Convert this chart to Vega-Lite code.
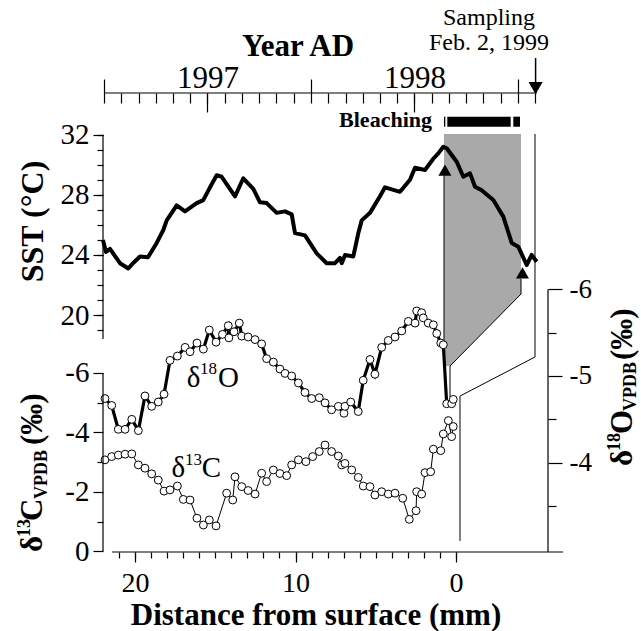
{
"$schema": "https://vega.github.io/schema/vega-lite/v6.json",
"autosize": {"type": "none"},
"padding": {"left": 103, "top": 93, "right": 93, "bottom": 79},
"width": 445,
"height": 459,
"config": {
  "view": {"stroke": null},
  "axis": {"domain": false, "grid": false, "tickColor": "black", "labelColor": "black", "labelFont": "Liberation Serif, Times New Roman, Times, DejaVu Serif, serif", "tickWidth": 1.2, "labelFlush": false, "labelOverlap": false},
  "text": {"font": "Liberation Serif, Times New Roman, Times, DejaVu Serif, serif", "color": "black"}
},
"datasets": {
  "sst": [
    {"t":1996.995,"v":25.0},{"t":1997.0097,"v":24.2},{"t":1997.029,"v":24.4},{"t":1997.0773,"v":23.45},{"t":1997.1174,"v":23.1},{"t":1997.1401,"v":23.45},{"t":1997.1739,"v":23.9},{"t":1997.2126,"v":23.85},{"t":1997.2546,"v":24.8},{"t":1997.2865,"v":25.66},{"t":1997.3029,"v":26.3},{"t":1997.3512,"v":27.3},{"t":1997.3913,"v":26.9},{"t":1997.4478,"v":27.45},{"t":1997.4797,"v":27.65},{"t":1997.5121,"v":28.5},{"t":1997.5444,"v":29.3},{"t":1997.5686,"v":29.2},{"t":1997.6329,"v":27.9},{"t":1997.6729,"v":29.1},{"t":1997.7213,"v":28.4},{"t":1997.7536,"v":27.5},{"t":1997.786,"v":27.45},{"t":1997.8343,"v":26.8},{"t":1997.8744,"v":26.9},{"t":1997.9068,"v":26.7},{"t":1997.9227,"v":25.45},{"t":1997.971,"v":25.3},{"t":1998.0275,"v":24.1},{"t":1998.0758,"v":23.45},{"t":1998.1159,"v":23.45},{"t":1998.1401,"v":23.8},{"t":1998.1483,"v":23.45},{"t":1998.1643,"v":24.0},{"t":1998.2043,"v":23.9},{"t":1998.2285,"v":25.44},{"t":1998.2449,"v":26.3},{"t":1998.285,"v":26.8},{"t":1998.3333,"v":27.9},{"t":1998.3575,"v":28.5},{"t":1998.43,"v":28.2},{"t":1998.4783,"v":29.0},{"t":1998.5024,"v":29.8},{"t":1998.5507,"v":29.65},{"t":1998.5908,"v":30.4},{"t":1998.615,"v":30.76},{"t":1998.6391,"v":31.2},{"t":1998.6556,"v":31.1},{"t":1998.7039,"v":30.2},{"t":1998.7358,"v":29.2},{"t":1998.7681,"v":29.43},{"t":1998.7923,"v":28.54},{"t":1998.8246,"v":28.3},{"t":1998.8807,"v":27.65},{"t":1998.929,"v":26.55},{"t":1998.9696,"v":24.8},{"t":1999.0014,"v":24.55},{"t":1999.042,"v":23.33},{"t":1999.0662,"v":24.0},{"t":1999.0903,"v":23.55}
  ],
  "o18": [
    {"d":21.87,"v":-4.74},{"d":21.45,"v":-4.66},{"d":21.04,"v":-4.385},{"d":20.62,"v":-4.385},{"d":20.2,"v":-4.5},{"d":19.79,"v":-4.37},{"d":19.38,"v":-4.77},{"d":18.96,"v":-4.65},{"d":18.55,"v":-4.7},{"d":18.19,"v":-4.79},{"d":17.82,"v":-5.18},{"d":17.36,"v":-5.23},{"d":16.88,"v":-5.33},{"d":16.57,"v":-5.28},{"d":16.14,"v":-5.38},{"d":15.74,"v":-5.31},{"d":15.37,"v":-5.53},{"d":14.95,"v":-5.39},{"d":14.55,"v":-5.48},{"d":14.19,"v":-5.58},{"d":14.15,"v":-5.44},{"d":13.83,"v":-5.51},{"d":13.5,"v":-5.61},{"d":13.35,"v":-5.46},{"d":12.95,"v":-5.45},{"d":12.52,"v":-5.42},{"d":12.11,"v":-5.37},{"d":11.8,"v":-5.2},{"d":11.38,"v":-5.16},{"d":10.97,"v":-5.08},{"d":10.65,"v":-5.03},{"d":10.24,"v":-5.0},{"d":9.82,"v":-4.92},{"d":9.41,"v":-4.81},{"d":8.99,"v":-4.74},{"d":8.52,"v":-4.75},{"d":8.16,"v":-4.69},{"d":7.75,"v":-4.61},{"d":7.33,"v":-4.65},{"d":6.98,"v":-4.57},{"d":6.92,"v":-4.65},{"d":6.56,"v":-4.7},{"d":6.09,"v":-4.59},{"d":5.78,"v":-4.95},{"d":5.36,"v":-5.19},{"d":5.05,"v":-5.02},{"d":4.63,"v":-5.33},{"d":4.22,"v":-5.41},{"d":3.8,"v":-5.45},{"d":3.38,"v":-5.52},{"d":2.97,"v":-5.63},{"d":2.55,"v":-5.61},{"d":2.45,"v":-5.75},{"d":2.14,"v":-5.73},{"d":2.04,"v":-5.67},{"d":1.73,"v":-5.61},{"d":1.41,"v":-5.59},{"d":1.2,"v":-5.49},{"d":0.95,"v":-5.38},{"d":0.79,"v":-5.36},{"d":0.58,"v":-4.68},{"d":0.27,"v":-4.68},{"d":0.17,"v":-4.73}
  ],
  "c13": [
    {"d":21.87,"v":-3.08},{"d":21.45,"v":-3.19},{"d":21.04,"v":-3.24},{"d":20.62,"v":-3.27},{"d":20.2,"v":-3.28},{"d":19.79,"v":-2.91},{"d":19.38,"v":-2.8},{"d":18.96,"v":-2.61},{"d":18.55,"v":-2.4},{"d":18.19,"v":-2.03},{"d":17.82,"v":-2.07},{"d":17.36,"v":-2.2},{"d":16.99,"v":-1.75},{"d":16.57,"v":-1.73},{"d":16.14,"v":-1.12},{"d":15.74,"v":-0.89},{"d":15.37,"v":-1.06},{"d":14.95,"v":-0.86},{"d":14.29,"v":-1.96},{"d":13.91,"v":-1.73},{"d":13.77,"v":-2.51},{"d":13.35,"v":-2.18},{"d":12.95,"v":-2.05},{"d":12.52,"v":-1.93},{"d":12.11,"v":-2.63},{"d":11.8,"v":-2.35},{"d":11.38,"v":-2.74},{"d":10.97,"v":-2.62},{"d":10.55,"v":-2.55},{"d":10.24,"v":-2.91},{"d":9.82,"v":-3.08},{"d":9.35,"v":-3.02},{"d":8.93,"v":-3.19},{"d":8.52,"v":-3.36},{"d":8.16,"v":-3.58},{"d":7.75,"v":-3.36},{"d":7.33,"v":-3.21},{"d":7.12,"v":-2.91},{"d":6.92,"v":-2.96},{"d":6.5,"v":-2.74},{"d":6.09,"v":-2.49},{"d":5.78,"v":-2.2},{"d":5.36,"v":-2.18},{"d":5.05,"v":-1.9},{"d":4.63,"v":-2.01},{"d":4.22,"v":-1.93},{"d":3.8,"v":-1.96},{"d":3.32,"v":-1.79},{"d":2.91,"v":-1.08},{"d":2.49,"v":-1.37},{"d":2.45,"v":-2.01},{"d":2.14,"v":-1.93},{"d":1.93,"v":-2.65},{"d":1.58,"v":-2.68},{"d":1.41,"v":-3.44},{"d":0.95,"v":-3.39},{"d":0.79,"v":-3.95},{"d":0.48,"v":-4.4},{"d":0.27,"v":-3.86},{"d":0.17,"v":-4.2}
  ],
  "band": [
    {"t":1998.6425,"top":32.05,"bot":16.61},{"t":1998.6715,"top":32.05,"bot":16.61},{"t":1999.0145,"top":32.05,"bot":21.4}
  ],
  "segs": [
    {"t":1998.6425,"v":29.3,"t2":1998.6425,"v2":16.61},
    {"t":1999.0145,"v":22.4,"t2":1999.0145,"v2":21.4},
    {"t":1999.0145,"v":21.4,"t2":1998.6715,"v2":16.61},
    {"t":1998.6715,"v":16.61,"t2":1998.6715,"v2":14.55},
    {"t":1999.0821,"v":32.05,"t2":1999.0821,"v2":17.21},
    {"t":1999.0821,"v":17.21,"t2":1998.7198,"v2":14.61},
    {"t":1998.7198,"v":14.61,"t2":1998.7198,"v2":4.97}
  ],
  "tri": [{"t":1998.647,"v":29.65},{"t":1999.0217,"v":22.8}],
  "bar": [{"a":1998.6425,"b":1998.6488},{"a":1998.6585,"b":1998.9647},{"a":1998.9773,"b":1999.0097}],
  "one": [{}]
},
"resolve": {"scale": {"x": "independent", "y": "independent"}, "axis": {"x": "independent", "y": "independent"}},
"layer": [
 {
  "resolve": {"axis": {"x": "independent", "y": "independent"}},
  "layer": [
   {"data": {"name": "band"}, "mark": {"type": "area", "color": "#a9a9a9"},
    "encoding": {"x": {"field": "t", "type": "quantitative", "scale": {"domain": [1996.99517, 1999.14493], "nice": false, "zero": false}, "axis": null},
                 "y": {"field": "top", "type": "quantitative", "scale": {"domain": [4.2355, 34.7745], "nice": false, "zero": false}, "axis": null},
                 "y2": {"field": "bot"}}},
   {"data": {"name": "segs"}, "mark": {"type": "rule", "color": "black", "strokeWidth": 1},
    "encoding": {"x": {"field": "t", "type": "quantitative", "scale": {"domain": [1996.99517, 1999.14493], "nice": false, "zero": false}, "axis": null},
                 "y": {"field": "v", "type": "quantitative", "scale": {"domain": [4.2355, 34.7745], "nice": false, "zero": false}, "axis": null},
                 "x2": {"field": "t2"}, "y2": {"field": "v2"}}},
   {"data": {"name": "sst"}, "mark": {"type": "line", "color": "black", "strokeWidth": 4, "strokeJoin": "round"},
    "encoding": {"x": {"field": "t", "type": "quantitative", "scale": {"domain": [1996.99517, 1999.14493], "nice": false, "zero": false},
                       "axis": {"orient": "top", "values": [1997, 1998, 1999], "tickSize": 14, "labels": false, "title": null}},
                 "y": {"field": "v", "type": "quantitative", "scale": {"domain": [4.2355, 34.7745], "nice": false, "zero": false},
                       "axis": {"orient": "left", "values": [20, 24, 28, 32], "tickSize": 10, "labelPadding": 4, "labelFontSize": 29, "title": null}}}},
   {"data": {"name": "tri"}, "mark": {"type": "point", "shape": "triangle-up", "filled": true, "color": "black", "opacity": 1, "size": 170},
    "encoding": {"x": {"field": "t", "type": "quantitative", "scale": {"domain": [1996.99517, 1999.14493], "nice": false, "zero": false},
                       "axis": {"orient": "top", "values": [1997, 1997.08333, 1997.16667, 1997.25, 1997.33333, 1997.41667, 1997.5, 1997.58333, 1997.66667, 1997.75, 1997.83333, 1997.91667, 1998, 1998.08333, 1998.16667, 1998.25, 1998.33333, 1998.41667, 1998.5, 1998.58333, 1998.66667, 1998.75, 1998.83333, 1998.91667, 1999, 1999.08333], "tickSize": -10, "labels": false, "title": null}},
                 "y": {"field": "v", "type": "quantitative", "scale": {"domain": [4.2355, 34.7745], "nice": false, "zero": false},
                       "axis": {"orient": "left", "values": [19, 20, 21, 22, 23, 24, 25, 26, 27, 28, 29, 30, 31, 32], "tickSize": 6, "labels": false, "title": null}}}},
   {"data": {"name": "bar"}, "mark": {"type": "rect", "color": "black"},
    "encoding": {"x": {"field": "a", "type": "quantitative", "scale": {"domain": [1996.99517, 1999.14493], "nice": false, "zero": false},
                       "axis": {"orient": "top", "values": [1997.5, 1998.5], "tickSize": -19, "labels": false, "title": null}},
                 "x2": {"field": "b"},
                 "y": {"datum": 33.2, "type": "quantitative", "scale": {"domain": [4.2355, 34.7745], "nice": false, "zero": false}, "axis": null},
                 "y2": {"datum": 32.53}}},
   {"data": {"name": "one"}, "mark": {"type": "rule", "color": "black", "strokeWidth": 1.2},
    "encoding": {"x": {"datum": 1997.0, "type": "quantitative", "scale": {"domain": [1996.99517, 1999.14493], "nice": false, "zero": false},
                       "axis": {"orient": "top", "values": [1997.5, 1998.5], "ticks": false, "labelPadding": -1, "labelFontSize": 31, "labelExpr": "datum.value < 1998 ? '1997' : '1998'", "title": null}},
                 "x2": {"datum": 1999.0918},
                 "y": {"datum": 34.7745, "type": "quantitative", "scale": {"domain": [4.2355, 34.7745], "nice": false, "zero": false}, "axis": null}}},
   {"data": {"name": "one"}, "mark": {"type": "rule", "color": "black", "strokeWidth": 1.2},
    "encoding": {"x": {"datum": 1996.99517, "type": "quantitative", "scale": {"domain": [1996.99517, 1999.14493], "nice": false, "zero": false}, "axis": null},
                 "y": {"datum": 18.4, "type": "quantitative", "scale": {"domain": [4.2355, 34.7745], "nice": false, "zero": false}, "axis": null},
                 "y2": {"datum": 32}}},
   {"data": {"name": "one"}, "mark": {"type": "rule", "color": "black", "strokeWidth": 1.5},
    "encoding": {"x": {"datum": 1999.085, "type": "quantitative", "scale": {"domain": [1996.99517, 1999.14493], "nice": false, "zero": false}, "axis": null},
                 "y": {"datum": 37.1, "type": "quantitative", "scale": {"domain": [4.2355, 34.7745], "nice": false, "zero": false}, "axis": null},
                 "y2": {"datum": 35.2}}},
   {"data": {"name": "one"}, "mark": {"type": "point", "shape": "triangle-down", "filled": true, "color": "black", "opacity": 1, "size": 200},
    "encoding": {"x": {"datum": 1999.085, "type": "quantitative", "scale": {"domain": [1996.99517, 1999.14493], "nice": false, "zero": false}, "axis": null},
                 "y": {"datum": 35.1, "type": "quantitative", "scale": {"domain": [4.2355, 34.7745], "nice": false, "zero": false}, "axis": null}}},
   {"data": {"name": "one"}, "mark": {"type": "text", "text": "Year AD", "fontSize": 31, "fontWeight": "bold", "align": "center", "baseline": "alphabetic"},
    "encoding": {"x": {"datum": 1997.9372, "type": "quantitative", "scale": {"domain": [1996.99517, 1999.14493], "nice": false, "zero": false}, "axis": null},
                 "y": {"datum": 37.236, "type": "quantitative", "scale": {"domain": [4.2355, 34.7745], "nice": false, "zero": false}, "axis": null}}},
   {"data": {"name": "one"}, "mark": {"type": "text", "text": "Sampling", "fontSize": 24, "align": "center", "baseline": "alphabetic"},
    "encoding": {"x": {"datum": 1998.8599, "type": "quantitative", "scale": {"domain": [1996.99517, 1999.14493], "nice": false, "zero": false}, "axis": null},
                 "y": {"datum": 39.3, "type": "quantitative", "scale": {"domain": [4.2355, 34.7745], "nice": false, "zero": false}, "axis": null}}},
   {"data": {"name": "one"}, "mark": {"type": "text", "text": "Feb. 2, 1999", "fontSize": 24, "align": "center", "baseline": "alphabetic"},
    "encoding": {"x": {"datum": 1998.8599, "type": "quantitative", "scale": {"domain": [1996.99517, 1999.14493], "nice": false, "zero": false}, "axis": null},
                 "y": {"datum": 37.636, "type": "quantitative", "scale": {"domain": [4.2355, 34.7745], "nice": false, "zero": false}, "axis": null}}},
   {"data": {"name": "one"}, "mark": {"type": "text", "text": "Bleaching", "fontSize": 22, "fontWeight": "bold", "align": "right", "baseline": "alphabetic"},
    "encoding": {"x": {"datum": 1998.5845, "type": "quantitative", "scale": {"domain": [1996.99517, 1999.14493], "nice": false, "zero": false}, "axis": null},
                 "y": {"datum": 32.512, "type": "quantitative", "scale": {"domain": [4.2355, 34.7745], "nice": false, "zero": false}, "axis": null}}},
   {"data": {"name": "one"}, "mark": {"type": "text", "text": "δ", "fontSize": 29, "align": "left", "baseline": "alphabetic"},
    "encoding": {"x": {"datum": 1997.3995, "type": "quantitative", "scale": {"domain": [1996.99517, 1999.14493], "nice": false, "zero": false}, "axis": null},
                 "y": {"datum": 15.233, "type": "quantitative", "scale": {"domain": [4.2355, 34.7745], "nice": false, "zero": false}, "axis": null}}},
   {"data": {"name": "one"}, "mark": {"type": "text", "text": "18", "fontSize": 17, "align": "left", "baseline": "alphabetic"},
    "encoding": {"x": {"datum": 1997.4638, "type": "quantitative", "scale": {"domain": [1996.99517, 1999.14493], "nice": false, "zero": false}, "axis": null},
                 "y": {"datum": 16.11, "type": "quantitative", "scale": {"domain": [4.2355, 34.7745], "nice": false, "zero": false}, "axis": null}}},
   {"data": {"name": "one"}, "mark": {"type": "text", "text": "O", "fontSize": 29, "align": "left", "baseline": "alphabetic"},
    "encoding": {"x": {"datum": 1997.5507, "type": "quantitative", "scale": {"domain": [1996.99517, 1999.14493], "nice": false, "zero": false}, "axis": null},
                 "y": {"datum": 15.233, "type": "quantitative", "scale": {"domain": [4.2355, 34.7745], "nice": false, "zero": false}, "axis": null}}},
   {"data": {"name": "one"}, "mark": {"type": "text", "text": "δ", "fontSize": 29, "align": "left", "baseline": "alphabetic"},
    "encoding": {"x": {"datum": 1997.3266, "type": "quantitative", "scale": {"domain": [1996.99517, 1999.14493], "nice": false, "zero": false}, "axis": null},
                 "y": {"datum": 9.246, "type": "quantitative", "scale": {"domain": [4.2355, 34.7745], "nice": false, "zero": false}, "axis": null}}},
   {"data": {"name": "one"}, "mark": {"type": "text", "text": "13", "fontSize": 17, "align": "left", "baseline": "alphabetic"},
    "encoding": {"x": {"datum": 1997.3913, "type": "quantitative", "scale": {"domain": [1996.99517, 1999.14493], "nice": false, "zero": false}, "axis": null},
                 "y": {"datum": 10.024, "type": "quantitative", "scale": {"domain": [4.2355, 34.7745], "nice": false, "zero": false}, "axis": null}}},
   {"data": {"name": "one"}, "mark": {"type": "text", "text": "C", "fontSize": 29, "align": "left", "baseline": "alphabetic"},
    "encoding": {"x": {"datum": 1997.472, "type": "quantitative", "scale": {"domain": [1996.99517, 1999.14493], "nice": false, "zero": false}, "axis": null},
                 "y": {"datum": 9.246, "type": "quantitative", "scale": {"domain": [4.2355, 34.7745], "nice": false, "zero": false}, "axis": null}}},
   {"data": {"name": "one"}, "mark": {"type": "text", "text": "SST (°C)", "fontSize": 32, "fontWeight": "bold", "align": "center", "baseline": "alphabetic", "angle": 270},
    "encoding": {"x": {"datum": 1996.7053, "type": "quantitative", "scale": {"domain": [1996.99517, 1999.14493], "nice": false, "zero": false}, "axis": null},
                 "y": {"datum": 26.225, "type": "quantitative", "scale": {"domain": [4.2355, 34.7745], "nice": false, "zero": false}, "axis": null}}},
   {"data": {"name": "one"}, "mark": {"type": "text", "text": "δ", "fontSize": 31, "fontWeight": "bold", "align": "left", "baseline": "alphabetic", "angle": 270},
    "encoding": {"x": {"datum": 1996.7005, "type": "quantitative", "scale": {"domain": [1996.99517, 1999.14493], "nice": false, "zero": false}, "axis": null},
                 "y": {"datum": 4.235, "type": "quantitative", "scale": {"domain": [4.2355, 34.7745], "nice": false, "zero": false}, "axis": null}}},
   {"data": {"name": "one"}, "mark": {"type": "text", "text": "13", "fontSize": 18, "fontWeight": "bold", "align": "left", "baseline": "alphabetic", "angle": 270},
    "encoding": {"x": {"datum": 1996.6425, "type": "quantitative", "scale": {"domain": [1996.99517, 1999.14493], "nice": false, "zero": false}, "axis": null},
                 "y": {"datum": 5.233, "type": "quantitative", "scale": {"domain": [4.2355, 34.7745], "nice": false, "zero": false}, "axis": null}}},
   {"data": {"name": "one"}, "mark": {"type": "text", "text": "C", "fontSize": 31, "fontWeight": "bold", "align": "left", "baseline": "alphabetic", "angle": 270},
    "encoding": {"x": {"datum": 1996.7005, "type": "quantitative", "scale": {"domain": [1996.99517, 1999.14493], "nice": false, "zero": false}, "axis": null},
                 "y": {"datum": 6.298, "type": "quantitative", "scale": {"domain": [4.2355, 34.7745], "nice": false, "zero": false}, "axis": null}}},
   {"data": {"name": "one"}, "mark": {"type": "text", "text": "VPDB", "fontSize": 18, "fontWeight": "bold", "align": "left", "baseline": "alphabetic", "angle": 270},
    "encoding": {"x": {"datum": 1996.7246, "type": "quantitative", "scale": {"domain": [1996.99517, 1999.14493], "nice": false, "zero": false}, "axis": null},
                 "y": {"datum": 7.762, "type": "quantitative", "scale": {"domain": [4.2355, 34.7745], "nice": false, "zero": false}, "axis": null}}},
   {"data": {"name": "one"}, "mark": {"type": "text", "text": "(‰)", "fontSize": 31, "fontWeight": "bold", "align": "left", "baseline": "alphabetic", "angle": 270},
    "encoding": {"x": {"datum": 1996.7005, "type": "quantitative", "scale": {"domain": [1996.99517, 1999.14493], "nice": false, "zero": false}, "axis": null},
                 "y": {"datum": 11.355, "type": "quantitative", "scale": {"domain": [4.2355, 34.7745], "nice": false, "zero": false}, "axis": null}}},
   {"data": {"name": "one"}, "mark": {"type": "text", "text": "δ", "fontSize": 31, "fontWeight": "bold", "align": "left", "baseline": "alphabetic", "angle": 270},
    "encoding": {"x": {"datum": 1999.5507, "type": "quantitative", "scale": {"domain": [1996.99517, 1999.14493], "nice": false, "zero": false}, "axis": null},
                 "y": {"datum": 9.957, "type": "quantitative", "scale": {"domain": [4.2355, 34.7745], "nice": false, "zero": false}, "axis": null}}},
   {"data": {"name": "one"}, "mark": {"type": "text", "text": "18", "fontSize": 18, "fontWeight": "bold", "align": "left", "baseline": "alphabetic", "angle": 270},
    "encoding": {"x": {"datum": 1999.4928, "type": "quantitative", "scale": {"domain": [1996.99517, 1999.14493], "nice": false, "zero": false}, "axis": null},
                 "y": {"datum": 10.955, "type": "quantitative", "scale": {"domain": [4.2355, 34.7745], "nice": false, "zero": false}, "axis": null}}},
   {"data": {"name": "one"}, "mark": {"type": "text", "text": "O", "fontSize": 31, "fontWeight": "bold", "align": "left", "baseline": "alphabetic", "angle": 270},
    "encoding": {"x": {"datum": 1999.5507, "type": "quantitative", "scale": {"domain": [1996.99517, 1999.14493], "nice": false, "zero": false}, "axis": null},
                 "y": {"datum": 12.086, "type": "quantitative", "scale": {"domain": [4.2355, 34.7745], "nice": false, "zero": false}, "axis": null}}},
   {"data": {"name": "one"}, "mark": {"type": "text", "text": "VPDB", "fontSize": 18, "fontWeight": "bold", "align": "left", "baseline": "alphabetic", "angle": 270},
    "encoding": {"x": {"datum": 1999.57, "type": "quantitative", "scale": {"domain": [1996.99517, 1999.14493], "nice": false, "zero": false}, "axis": null},
                 "y": {"datum": 13.617, "type": "quantitative", "scale": {"domain": [4.2355, 34.7745], "nice": false, "zero": false}, "axis": null}}},
   {"data": {"name": "one"}, "mark": {"type": "text", "text": "(‰)", "fontSize": 31, "fontWeight": "bold", "align": "left", "baseline": "alphabetic", "angle": 270},
    "encoding": {"x": {"datum": 1999.5507, "type": "quantitative", "scale": {"domain": [1996.99517, 1999.14493], "nice": false, "zero": false}, "axis": null},
                 "y": {"datum": 17.01, "type": "quantitative", "scale": {"domain": [4.2355, 34.7745], "nice": false, "zero": false}, "axis": null}}},
   {"data": {"name": "one"}, "mark": {"type": "text", "text": "Distance from surface (mm)", "fontSize": 31, "fontWeight": "bold", "align": "center", "baseline": "alphabetic"},
    "encoding": {"x": {"datum": 1998.0242, "type": "quantitative", "scale": {"domain": [1996.99517, 1999.14493], "nice": false, "zero": false}, "axis": null},
                 "y": {"datum": -0.62, "type": "quantitative", "scale": {"domain": [4.2355, 34.7745], "nice": false, "zero": false}, "axis": null}}}
  ]
 },
 {
  "resolve": {"axis": {"x": "independent", "y": "independent"}},
  "layer": [
   {"data": {"name": "o18"}, "mark": {"type": "line", "color": "black", "strokeWidth": 3.2},
    "encoding": {"x": {"field": "d", "type": "quantitative", "scale": {"domain": [-5.732, 21.994], "reverse": true, "nice": false, "zero": false},
                       "axis": {"orient": "bottom", "values": [0, 1, 2, 3, 4, 5, 6, 7, 8, 9, 10, 11, 12, 13, 14, 15, 16, 17, 18, 19, 20, 21], "tickSize": 6, "labels": false, "title": null}},
                 "y": {"field": "v", "type": "quantitative", "scale": {"domain": [-8.264, -2.97], "reverse": true, "nice": false, "zero": false},
                       "axis": {"orient": "right", "values": [-5.5, -4.5, -3.5], "tickSize": 8, "labels": false, "title": null}}}},
   {"data": {"name": "o18"}, "mark": {"type": "point", "shape": "circle", "filled": true, "fill": "white", "stroke": "black", "strokeWidth": 1, "opacity": 1, "size": 62},
    "encoding": {"x": {"field": "d", "type": "quantitative", "scale": {"domain": [-5.732, 21.994], "reverse": true, "nice": false, "zero": false},
                       "axis": {"orient": "bottom", "values": [0, 10, 20], "tickSize": 10, "labelPadding": 7, "labelFontSize": 28, "title": null}},
                 "y": {"field": "v", "type": "quantitative", "scale": {"domain": [-8.264, -2.97], "reverse": true, "nice": false, "zero": false},
                       "axis": {"orient": "right", "values": [-6, -5, -4], "tickSize": 14, "labelPadding": 7, "labelFontSize": 27, "labelExpr": "'' + datum.value", "title": null}}}},
   {"data": {"name": "one"}, "mark": {"type": "rule", "color": "black", "strokeWidth": 1.2},
    "encoding": {"x": {"datum": -5.732, "type": "quantitative", "scale": {"domain": [-5.732, 21.994], "reverse": true, "nice": false, "zero": false}, "axis": null},
                 "y": {"datum": -6, "type": "quantitative", "scale": {"domain": [-8.264, -2.97], "reverse": true, "nice": false, "zero": false}, "axis": null},
                 "y2": {"datum": -2.97}}},
   {"data": {"name": "one"}, "mark": {"type": "rule", "color": "black", "strokeWidth": 1.2},
    "encoding": {"x": {"datum": 21.43, "type": "quantitative", "scale": {"domain": [-5.732, 21.994], "reverse": true, "nice": false, "zero": false}, "axis": null},
                 "x2": {"datum": -6.667},
                 "y": {"datum": -2.97, "type": "quantitative", "scale": {"domain": [-8.264, -2.97], "reverse": true, "nice": false, "zero": false}, "axis": null}}}
  ]
 },
 {
  "resolve": {"axis": {"x": "independent", "y": "independent"}},
  "layer": [
   {"data": {"name": "c13"}, "mark": {"type": "line", "color": "black", "strokeWidth": 1},
    "encoding": {"x": {"field": "d", "type": "quantitative", "scale": {"domain": [-5.732, 21.994], "reverse": true, "nice": false, "zero": false}, "axis": null},
                 "y": {"field": "v", "type": "quantitative", "scale": {"domain": [-15.41, 0.017], "reverse": true, "nice": false, "zero": false},
                       "axis": {"orient": "left", "values": [-5, -3, -1], "tickSize": 6, "labels": false, "title": null}}}},
   {"data": {"name": "c13"}, "mark": {"type": "point", "shape": "circle", "filled": true, "fill": "white", "stroke": "black", "strokeWidth": 1, "opacity": 1, "size": 62},
    "encoding": {"x": {"field": "d", "type": "quantitative", "scale": {"domain": [-5.732, 21.994], "reverse": true, "nice": false, "zero": false}, "axis": null},
                 "y": {"field": "v", "type": "quantitative", "scale": {"domain": [-15.41, 0.017], "reverse": true, "nice": false, "zero": false},
                       "axis": {"orient": "left", "values": [-6, -4, -2, 0], "tickSize": 10, "labelPadding": 4, "labelFontSize": 29, "labelExpr": "'' + datum.value", "title": null}}}},
   {"data": {"name": "one"}, "mark": {"type": "rule", "color": "black", "strokeWidth": 1.2},
    "encoding": {"x": {"datum": 21.994, "type": "quantitative", "scale": {"domain": [-5.732, 21.994], "reverse": true, "nice": false, "zero": false}, "axis": null},
                 "y": {"datum": 0, "type": "quantitative", "scale": {"domain": [-15.41, 0.017], "reverse": true, "nice": false, "zero": false}, "axis": null},
                 "y2": {"datum": -6}}}
  ]
 }
]
}
